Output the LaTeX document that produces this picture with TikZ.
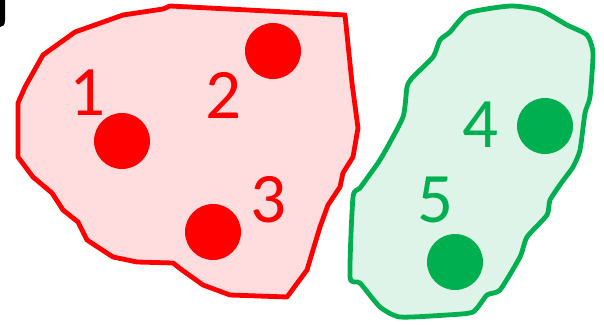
\documentclass[tikz,border=0pt]{standalone}
\usepackage{fontspec}
\setmainfont{Carlito}
\definecolor{myred}{HTML}{FF0000}
\definecolor{redfill}{HTML}{FFDDDF}
\definecolor{mygreen}{HTML}{00B050}
\definecolor{greenfill}{HTML}{DEF4E8}
\tikzset{
  blobred/.style={draw=myred, fill=redfill, line width=4.8pt, line join=round},
  blobgreen/.style={draw=mygreen, fill=greenfill, line width=4.8pt, line join=round},
  dot/.style={circle, minimum size=56pt, inner sep=0pt},
  num/.style={font=\fontsize{71}{71}\selectfont, inner sep=0pt},
}
\begin{document}
\begin{tikzpicture}[x=1pt,y=-1pt]
\useasboundingbox (0,0) rectangle (604,324);
% black fragment top-left
\fill[black] (0,0) -- (5,0) -- (5,20) .. controls (5,25) and (3,27) .. (0,27) -- cycle;
% red region
\draw[blobred] (170,6) -- (345,15) -- (352,83) -- (358,128) -- (353,157)
 -- (343,173) -- (340,187) -- (328,205) -- (320,227) -- (313,250) -- (307,270)
 -- (287,297) -- (230,295) -- (203,285) -- (182,270) -- (173,263) -- (137,262)
 -- (113,257) -- (87,240) -- (78,222) -- (63,210) -- (52,193) -- (33,177)
 -- (18,157) -- (18,103) -- (25,87) -- (43,55) -- (75,32) -- (123,15) -- (163,9) -- cycle;
% green region
\draw[blobgreen] plot[smooth cycle, tension=0.35] coordinates {
 (468,13) (510,6) (540,10) (567,25) (587,35) (593,53) (590,97) (585,113)
 (580,150) (573,167) (562,182) (550,200) (547,215) (527,237) (520,257)
 (500,290) (487,295) (473,312) (447,315) (400,317) (380,307) (360,283)
 (350,277) (353,197) (360,188) (378,163) (383,155) (403,117) (407,87)
 (412,78) (433,57) (440,40) (450,32)};
% dots
\node[dot, fill=myred] (d1) at (122,141) {};
\node[dot, fill=myred] (d2) at (273,51) {};
\node[dot, fill=myred] (d3) at (213,232) {};
\node[dot, fill=mygreen] (d4) at (545,126) {};
\node[dot, fill=mygreen] (d5) at (455,262) {};
% labels
\node[num, text=myred] (l1) at (87,93) {1};
\node[num, text=myred] (l2) at (223,95) {2};
\node[num, text=myred] (l3) at (268,200) {3};
\node[num, text=mygreen] (l4) at (480,125) {4};
\node[num, text=mygreen] (l5) at (435,200) {5};
\end{tikzpicture}
\end{document}
